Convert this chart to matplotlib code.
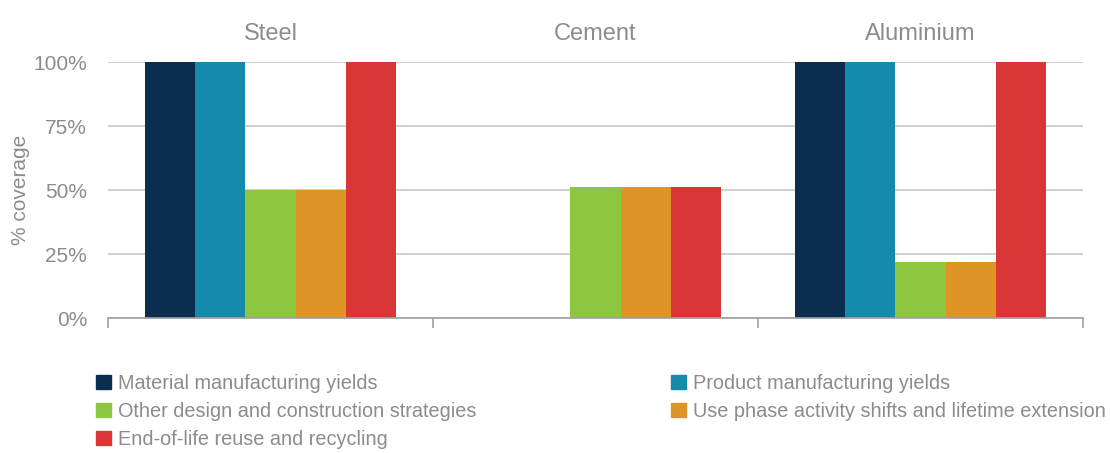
import numpy as np
import matplotlib.pyplot as plt
from matplotlib.patches import Patch

# --- data --- #
materials = ["Steel", "Cement", "Aluminium"]
series = [
	"Material manufacturing yields",
	"Product manufacturing yields",
	"Other design and construction strategies",
	"Use phase activity shifts and lifetime extension",
	"End-of-life reuse and recycling",
]
coverage = {
	"Material manufacturing yields": [100, 0, 100],
	"Product manufacturing yields": [100, 0, 100],
	"Other design and construction strategies": [50, 51, 22],
	"Use phase activity shifts and lifetime extension": [50, 51, 22],
	"End-of-life reuse and recycling": [100, 51, 100],
}
colors = ["#0B2D4F", "#158BAB", "#8DC63F", "#DF9426", "#D93636"]
yticks = [0, 25, 50, 75, 100]

grey = "#8C8C8C"
plt.rcParams['font.family'] = ['Liberation Sans', 'DejaVu Sans']

fig = plt.figure( figsize=(11.1, 4.53), dpi=100 )
ax = fig.add_axes( [108/1110, 1-318/453, 975/1110, 256/453] )

x = np.arange( len( materials ) )
width = 0.154
for i, name in enumerate( series ):
	offs = ( i - 2 ) * width
	ax.bar( x + offs, coverage[name], width, color=colors[i], linewidth=0 )

ax.set_xlim( -0.5, len( materials ) - 0.5 )
ax.set_ylim( 0, 100 )
ax.set_yticks( yticks )
ax.set_yticklabels( [ f"{t}%" for t in yticks ], fontsize=15, color=grey )
ax.yaxis.grid( True, color="#C8C8C8", linewidth=1.2 )
ax.set_axisbelow( True )
ax.tick_params( axis="y", length=0, pad=15 )

# category boundaries as ticks below the axis
ax.set_xticks( np.arange( -0.5, len( materials ), 1 ) )
ax.set_xticklabels( [] )
ax.tick_params( axis="x", length=7, width=1.2, color="#A0A0A0", direction="out" )
for s in [ "top", "right", "left" ]:
	ax.spines[s].set_visible( False )
ax.spines["bottom"].set_color( "#A0A0A0" )
ax.spines["bottom"].set_linewidth( 1.2 )

for xi, m in zip( x, materials ):
	ax.text( xi, 1.065, m, transform=ax.get_xaxis_transform(), ha="center", va="bottom",
		fontsize=17, color=grey )

ax.set_ylabel( "% coverage", fontsize=15, color=grey )
ax.yaxis.set_label_coords( -78/975, 0.5 )

# legend filled row by row across two columns
order = [0, 2, 4, 1, 3]
handles = [ Patch( color=colors[i], label=series[i] ) for i in order ]
fig.legend( handles=handles, ncol=2, loc="upper left", bbox_to_anchor=(88/1110, 1-366/453),
	frameon=False, fontsize=14.3, labelcolor=grey, handlelength=0.75, handleheight=0.75,
	handletextpad=0.35, columnspacing=9.8, labelspacing=0.45, borderaxespad=0 )

fig.savefig( "out.png", dpi=100 )
